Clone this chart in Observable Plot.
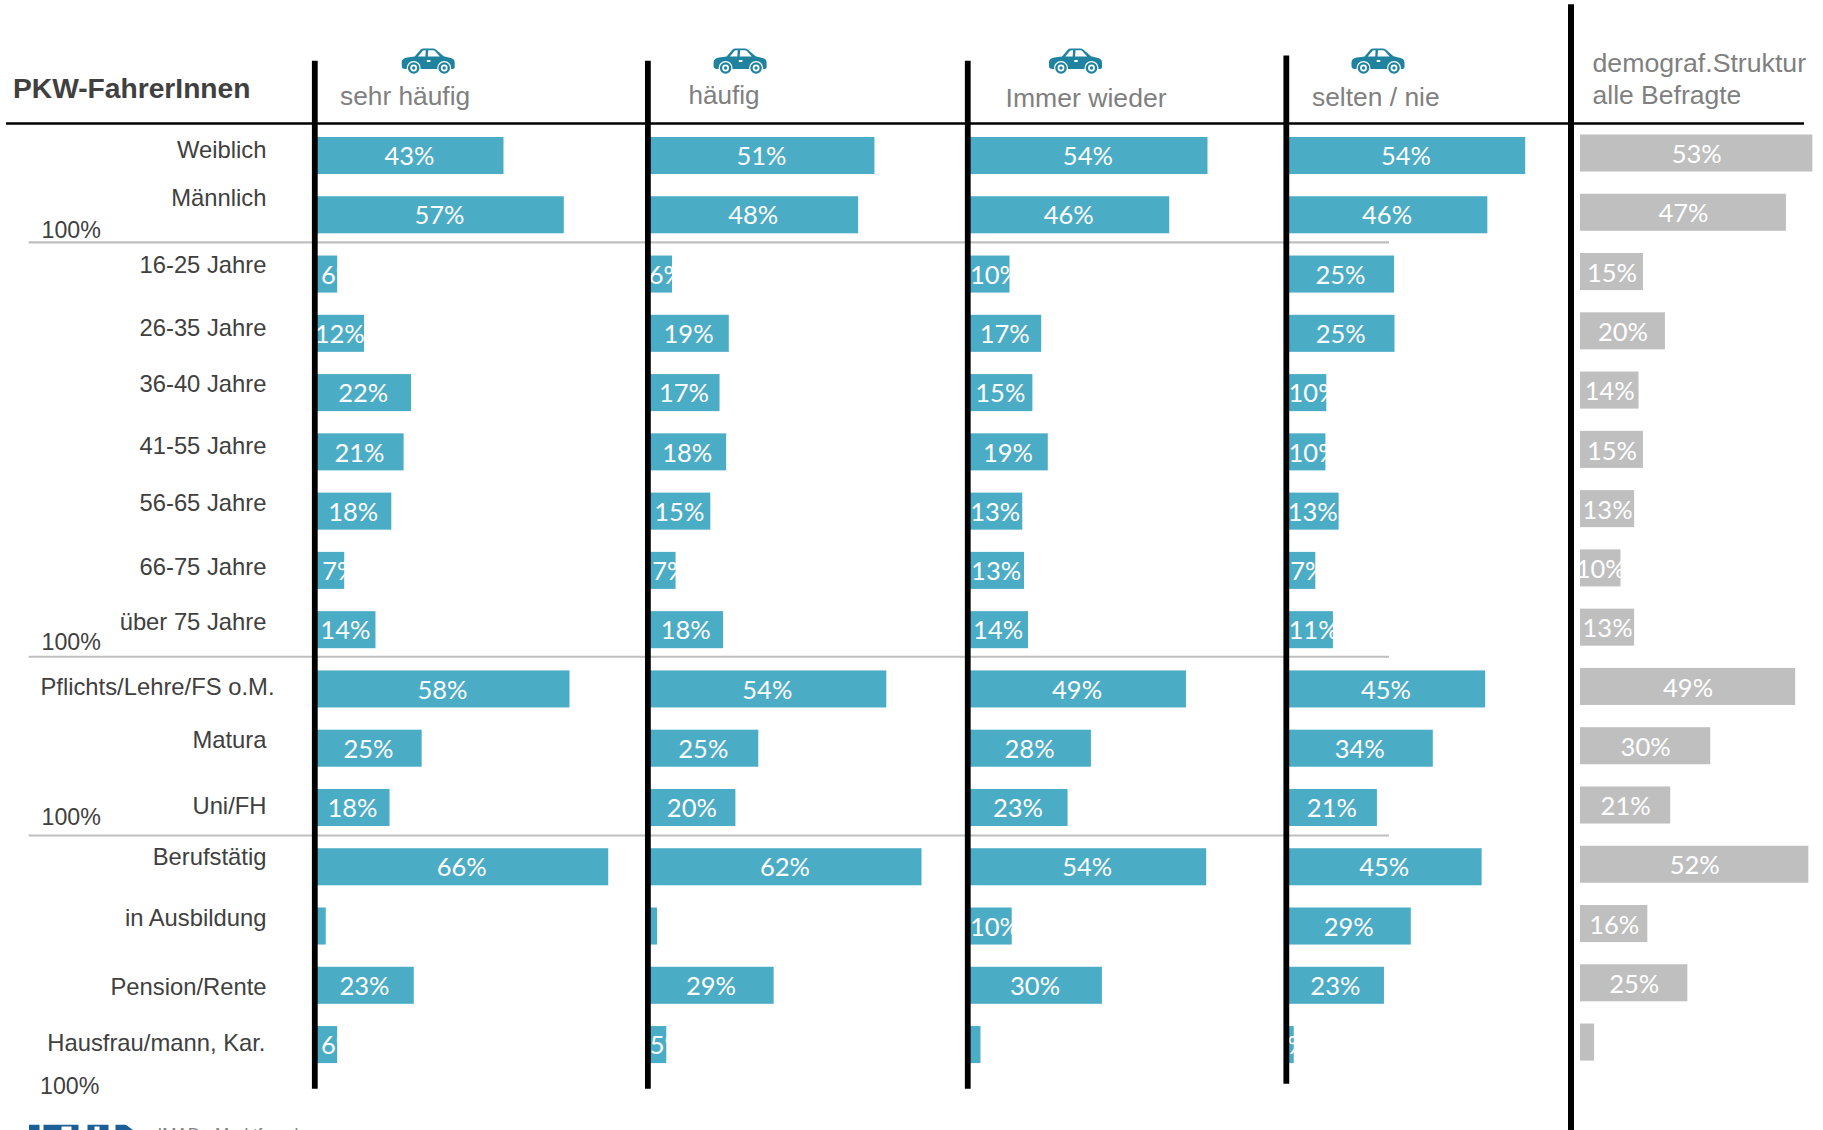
<!DOCTYPE html>
<html lang="de">
<head>
<meta charset="utf-8">
<title>PKW-FahrerInnen</title>
<style>
html,body{margin:0;padding:0;background:#fff;overflow:hidden}
svg{display:block}
</style>
<script src="https://cdn.jsdelivr.net/npm/d3@7"></script>
<script src="https://cdn.jsdelivr.net/npm/@observablehq/plot@0.6"></script>
</head>
<body>
<div id="chart"></div>
<script>
// ---------- data ----------
const rows = ["Weiblich","Männlich","16-25 Jahre","26-35 Jahre","36-40 Jahre","41-55 Jahre","56-65 Jahre","66-75 Jahre","über 75 Jahre","Pflichts/Lehre/FS o.M.","Matura","Uni/FH","Berufstätig","in Ausbildung","Pension/Rente","Hausfrau/mann, Kar."];
const columns = ["sehr häufig","häufig","Immer wieder","selten / nie","demograf.Struktur"];

const sehrHaeufig = [43.0,56.7,5.2,11.3,22.0,20.3,17.5,6.8,13.9,58.0,24.4,17.1,66.8,2.6,22.6,5.2];
const haeufig     = [51.6,47.9,5.6,18.5,16.4,17.9,14.3,6.4,17.2,54.3,25.2,20.0,62.3,2.2,28.7,4.3];
const immerWieder = [54.6,45.9,9.6,16.8,14.8,18.3,12.5,12.9,13.8,49.7,28.1,22.8,54.3,10.1,30.6,3.0];
const seltenNie   = [54.4,45.8,24.6,24.7,9.2,9.0,12.0,6.7,10.7,45.3,33.4,20.7,44.5,28.4,22.3,1.8];
const demografie  = [52.8,46.8,14.3,19.3,13.3,14.3,12.3,9.2,12.3,48.9,29.6,20.5,51.9,15.3,24.4,3.2];

const sehrHaeufigLabels = [43,57,6,12,22,21,18,7,14,58,25,18,66,null,23,6];
const haeufigLabels     = [51,48,6,19,17,18,15,7,18,54,25,20,62,null,29,5];
const immerWiederLabels = [54,46,10,17,15,19,13,13,14,49,28,23,54,10,30,null];
const seltenNieLabels   = [54,46,25,25,10,10,13,7,11,45,34,21,45,29,23,2];
const demografieLabels  = [53,47,15,20,14,15,13,10,13,49,30,21,52,16,25,null];

// ---------- layout ----------
const W = 1823, H = 1130;
const originPx = 314.3, pxPerPercent = 4.4;      // x scale: percent to pixel
const panelStart = [0,75.7,148.4,220.8,287.66];  // where each panel's zero sits
const axisAt     = [0,75.7,148.4,220.8,285.5];
const insetOverride = {"0:2":1.7,"0:7":2,"0:15":1.7,"1:2":.5,"1:7":1.3,"1:15":.7,"3:7":1.2};
const teal = "#4BACC6", gray = "#BFBFBF", dark = "#404040", mid = "#808080";
const rowDy = [-5.5,-17,-9,-5,-8.6,-6,-8,-3.4,-7.7,-2,-8,-1.5,-10,-8,1.7,-1.6];
const rowDx = [266,266,266,266,266,266,266,266,266,274,266,266,266,266,266,265];
const groupEnds = [[230,41],[642,41],[817,41],[1086,39.5]];

const values = [sehrHaeufig,haeufig,immerWieder,seltenNie,demografie];
const labels = [sehrHaeufigLabels,haeufigLabels,immerWiederLabels,seltenNieLabels,demografieLabels];
const table = columns.flatMap((c,ci)=>rows.map((r,ri)=>{
  const v = values[ci][ri], l = labels[ci][ri];
  const w = l==null ? 0 : (l>=10 ? 11.4 : 7.4);
  const narrow = ci<4 && v>=3 && v<w-0.3;
  const inset = insetOverride[ci+":"+ri] ?? 0.5;
  const center = narrow ? w/2+inset : v/2;
  return {column:c,ci,row:r,start:panelStart[ci],end:panelStart[ci]+v,value:v,label:l,labelX:panelStart[ci]+center};
}));
const tealRows = table.filter(d=>d.ci<4), grayRows = table.filter(d=>d.ci===4);

const carSvg = `<svg xmlns="http://www.w3.org/2000/svg" viewBox="0 0 54 27"><path fill="#1F83A0" d="M0.5 14.5C0.5 11.5 3 10 6 9.5L13.5 8.5L19.5 1.5Q20.5 .5 22.5 .5L31.5 .5Q33.5 .5 35 1.8L42.5 8.3L49.5 10C52.5 10.8 53.5 12.5 53.5 15L53.5 19C53.5 20.5 52.5 21 51 21L4 21C1.5 21 .5 20 .5 18Z"/><path fill="#fff" d="M16.8 8.4L21.5 2.8Q22 2.2 23 2.2L24.6 2.2L24.2 8.4ZM27 2.2L32 2.2Q33 2.2 33.8 3L38.6 8.4L26.6 8.4Z"/><rect x="25.5" y="12" width="4" height="2" rx="1" fill="#fff"/><circle cx="12.5" cy="20" r="7" fill="#fff"/><circle cx="12.5" cy="20" r="5.8" fill="#1F83A0"/><circle cx="12.5" cy="20" r="3.4" fill="#fff"/><circle cx="12.5" cy="20" r="1.7" fill="#1F83A0"/><circle cx="43" cy="20" r="7" fill="#fff"/><circle cx="43" cy="20" r="5.8" fill="#1F83A0"/><circle cx="43" cy="20" r="3.4" fill="#fff"/><circle cx="43" cy="20" r="1.7" fill="#1F83A0"/></svg>`;
const carSrc = "data:image/svg+xml;utf8," + encodeURIComponent(carSvg);
const cars = [{x:(427.7-originPx)/pxPerPercent},{x:(739.6-originPx)/pxPerPercent},{x:(1075-originPx)/pxPerPercent},{x:(1377.5-originPx)/pxPerPercent}];

const logoSvg = `<svg xmlns="http://www.w3.org/2000/svg" viewBox="0 0 105 6"><path fill="#1A5F95" d="M0 0H11V6H0ZM15 0H50V6H15ZM59 0H80V6H59ZM87 0H97L105 6H87Z"/><path fill="#fff" d="M33 2H43V6H33ZM66 2H71V6H66Z"/></svg>`;
const logoSrc = "data:image/svg+xml;utf8," + encodeURIComponent(logoSvg);

const headers = [
  {t:"PKW-FahrerInnen",x:12.5,y:88,size:28.2,weight:"bold",fill:dark},
  {t:"sehr häufig",x:339.5,y:96,size:26.3,fill:mid},
  {t:"häufig",x:688,y:95.5,size:26.1,fill:mid},
  {t:"Immer wieder",x:1005,y:98,size:26.6,fill:mid},
  {t:"selten / nie",x:1311.5,y:97.3,size:26.4,fill:mid},
  {t:"demograf.Struktur",x:1592,y:63,size:26.7,fill:mid},
  {t:"alle Befragte",x:1592,y:95,size:26.5,fill:mid}
];
const head = h => Plot.text([h.t],{text:d=>d,frameAnchor:"top-left",dx:h.x,dy:h.y,textAnchor:"start",lineAnchor:"middle",
  fontSize:h.size,fontWeight:h.weight||"normal",fill:h.fill,fontFamily:"Liberation Sans"});
const vRule = (px,top,bottom,sw) => Plot.ruleX(px,{insetTop:top,insetBottom:H-bottom,stroke:"#000",strokeWidth:sw});
const hRule = (row,dy,x1,x2,stroke,sw) => Plot.ruleY([row],{y:d=>d,dy,x1:(x1-originPx)/pxPerPercent,x2:(x2-originPx)/pxPerPercent,stroke,strokeWidth:sw});

const chart = Plot.plot({
  width:W,height:H,margin:0,
  style:{background:"#fff",fontFamily:"Liberation Sans"},
  x:{domain:[-originPx/pxPerPercent,(W-originPx)/pxPerPercent],range:[0,W],axis:null},
  y:{domain:rows,range:[125.87,1074.2],paddingInner:0.375,paddingOuter:0.1875,round:false,axis:null},
  marks:[
    // group separators and header line
    hRule("Männlich",27,28.6,1389,gray,2.2),
    hRule("über 75 Jahre",26.6,28.6,1389,gray,2.2),
    hRule("Uni/FH",27.5,28.6,1389,gray,2.2),
    hRule("Weiblich",-32.5,6,1804,"#000",2.4),
    // bars
    Plot.barX(tealRows,{x1:"start",x2:"end",y:"row",fill:teal,ariaLabel:"bars"}),
    Plot.barX(grayRows,{x1:"start",x2:"end",y:"row",dy:-2.5,fill:gray,ariaLabel:"bars gray"}),
    // percentage labels
    Plot.text(tealRows.filter(d=>d.label!=null),{x:"labelX",y:"row",dy:1,text:d=>d.label+"%",fill:"#fff",fontSize:25.5,fontFamily:"Lato",ariaLabel:"teal values"}),
    Plot.text(grayRows.filter(d=>d.label!=null),{x:"labelX",y:"row",dy:-1,text:d=>d.label+"%",fill:"#fff",fontSize:25.5,fontFamily:"Lato",ariaLabel:"gray values"}),
    // panel axes
    vRule(axisAt.slice(0,3),60.7,1088.7,5.8),
    vRule([axisAt[3]],55.5,1083.7,5.8),
    vRule([axisAt[4]],4.3,1130,6),
    // row labels
    ...rows.map((r,i)=>Plot.text([r],{text:d=>d,y:d=>d,frameAnchor:"left",dx:rowDx[i],dy:rowDy[i],textAnchor:"end",fontSize:23.8,fill:dark,fontFamily:"Liberation Sans"})),
    // group totals
    ...groupEnds.map(g=>Plot.text(["100%"],{text:d=>d,frameAnchor:"top-left",dx:g[1],dy:g[0],textAnchor:"start",lineAnchor:"middle",fontSize:23.2,fill:dark,fontFamily:"Liberation Sans"})),
    // header texts and icons
    ...headers.map(head),
    Plot.image(cars,{x:"x",y:()=>"Weiblich",dy:-94.5,width:54,height:27,src:()=>carSrc,ariaLabel:"cars"}),
    // cropped footer
    Plot.image([{x:(80.5-originPx)/pxPerPercent}],{x:"x",y:()=>rows[rows.length-1],dy:82.4,width:105,height:6,src:()=>logoSrc,ariaLabel:"logo"}),
    Plot.text(["IMAD - Marktforschung"],{text:d=>d,frameAnchor:"top-left",dx:157,dy:1134,textAnchor:"start",lineAnchor:"middle",fontSize:17,fill:mid,fontFamily:"Liberation Sans"})
  ]
});

// Labels are cut off at the end of their bar, as in a fixed-size text box.
const xs = chart.scale("x"), ys = chart.scale("y");
const defs = d3.select(chart).append("defs");
function clipLabels(name,data,dy){
  d3.select(chart).select(`g[aria-label="${name}"]`).selectAll("text").each(function(_,i){
    const d = data[i], id = `clip-${name.split(" ")[0]}-${i}`;
    const x0 = xs.apply(d.start), x1 = xs.apply(d.end);
    defs.append("clipPath").attr("id",id).append("rect")
      .attr("x",x0).attr("y",ys.apply(d.row)+dy).attr("width",x1-x0).attr("height",ys.bandwidth);
    const g = document.createElementNS("http://www.w3.org/2000/svg","g");
    g.setAttribute("clip-path",`url(#${id})`);
    this.parentNode.insertBefore(g,this);
    g.appendChild(this);
  });
}
clipLabels("teal values",tealRows.filter(d=>d.label!=null),0);
clipLabels("gray values",grayRows.filter(d=>d.label!=null),-2.5);

document.getElementById("chart").appendChild(chart);
</script>
</body>
</html>
